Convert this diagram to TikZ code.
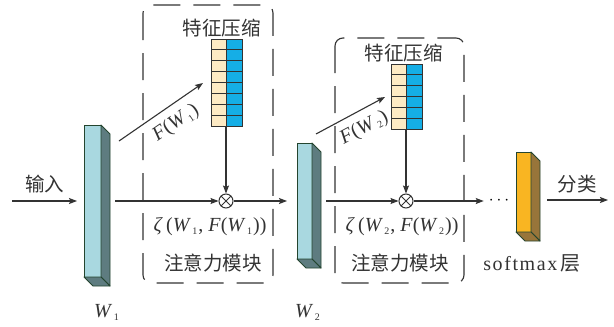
\documentclass[tikz,border=0pt]{standalone}
\usepackage{fontspec}
\setmainfont{Liberation Serif}
\newfontfamily\cjk{Noto Sans CJK SC}
\usetikzlibrary{arrows.meta,calc}
\definecolor{linec}{HTML}{333333}
\definecolor{edgec}{HTML}{24452F}
\definecolor{wfront}{HTML}{A9D8E0}
\definecolor{wside}{HTML}{5E7C80}
\definecolor{sfront}{HTML}{F9B522}
\definecolor{sside}{HTML}{98753A}
\definecolor{cbeige}{HTML}{FDEAC4}
\definecolor{cblue}{HTML}{15AEE6}
\newcommand\Wi[1]{\textit{W}\kern1.5pt\raisebox{-3pt}{\fontsize{10}{10}\selectfont #1}\kern1pt}
\newcommand\drawprism[6]{%
  \node[prismface, fill=#5, minimum width=#3, minimum height=#4] (#1) at (#2) {};
  \filldraw[prismedge, fill=#6] (#1.north east) -- ++(9,9) -- ($(#1.south east)+(9,9)$) -- (#1.south east) -- cycle;
  \filldraw[prismedge, fill=#6] (#1.south west) -- ++(9,9) -- ($(#1.south east)+(9,9)$) -- (#1.south east) -- cycle;
}
\begin{document}
\begin{tikzpicture}[x=1pt,y=-1pt,
  line/.style={draw=linec, line width=1.1pt},
  arr/.style={line, -{Stealth[length=8pt,width=6pt,inset=1.5pt]}},
  dbox/.style={draw=linec, line width=1.1pt, rounded corners=8pt, dash pattern=on 27pt off 13pt},
  prismface/.style={draw=edgec, line width=0.9pt, inner sep=0pt, outer sep=0pt, rectangle},
  prismedge/.style={draw=edgec, line width=0.9pt, line join=round},
  cell/.style={draw=linec, line width=0.8pt},
  otimes/.style={circle, draw=linec, line width=1pt, fill=white, minimum size=14pt, inner sep=0pt,
    path picture={\draw[linec, line width=0.9pt] (path picture bounding box.north west) -- (path picture bounding box.south east)
      (path picture bounding box.north east) -- (path picture bounding box.south west);}},
  lab/.style={inner sep=0pt, text=linec, font=\fontsize{20}{23}\selectfont},
  cjklab/.style={inner sep=0pt, text=linec, font=\cjk\fontsize{19.5}{22}\selectfont},
]
\useasboundingbox[fill=white] (0,0) rectangle (614,327);

% dashed module frames
\draw[dbox] (143,5) rectangle (273,283);
\draw[dbox] (335,38) rectangle (464,283);

% prisms
\drawprism{w1}{92.5,201}{17pt}{152pt}{wfront}{wside}
\drawprism{w2}{304.5,201}{15pt}{116pt}{wfront}{wside}
\drawprism{sm}{523.5,192}{15pt}{80pt}{sfront}{sside}

% feature stacks
\foreach \i in {0,...,7} {
  \filldraw[cell, fill=cbeige] (211,39+\i*10.875) rectangle ++(15,10.875);
  \filldraw[cell, fill=cblue] (226,39+\i*10.875) rectangle ++(16,10.875);
}
\foreach \i in {0,...,5} {
  \filldraw[cell, fill=cbeige] (391,64+\i*10.833) rectangle ++(15,10.833);
  \filldraw[cell, fill=cblue] (406,64+\i*10.833) rectangle ++(16,10.833);
}
\coordinate (s1) at (226,126);
\coordinate (s2) at (406,129);

% multiplication nodes
\node[otimes] (o1) at (226,201) {};
\node[otimes] (o2) at (406,201) {};
\node[inner sep=0pt, font=\fontsize{16}{16}\selectfont] (dots) at (499,201) {$\cdots$};

% coordinates
\coordinate (in) at (12,201);
\coordinate (f1s) at (119,141);
\coordinate (f1e) at (203,83);
\coordinate (f2s) at (316,134);
\coordinate (f2e) at (385,97);
\coordinate (smout) at ($(sm.east)+(16,8)$);
\coordinate (out) at (608,200);

% connectors
\draw[arr, shorten >=7pt] (in) -- (w1.west);
\draw[arr] ($(w1.east)+(14,0)$) -- (o1.west);
\draw[arr, shorten >=10pt] (o1.east) -- (w2.west);
\draw[arr] ($(w2.east)+(14,0)$) -- (o2.west);
\draw[arr, shorten >=5pt] (o2.east) -- (dots.west);
\draw[arr] (smout) -- (out);
\draw[arr] (s1) -- (o1.north);
\draw[arr] (s2) -- (o2.north);
\draw[arr] (f1s) -- node[lab, sloped, pos=0.56, below=8pt] {\textit{F}(\Wi{1})} (f1e);
\draw[arr] (f2s) -- node[lab, sloped, pos=0.58, below=8pt] {\textit{F}(\Wi{2})} (f2e);

% labels
\node[cjklab] (tin) at (45,184) {输入};
\node[cjklab] (tout) at (577,184) {分类};
\node[cjklab] (sq1) at (221.5,28) {特征压缩};
\node[cjklab] (sq2) at (403.5,53) {特征压缩};
\node[lab] (z1) at (210,227) {\textit{ζ}\,(\Wi{1}, \textit{F}(\Wi{1}))};
\node[lab] (z2) at (402,227) {\textit{ζ}\,(\Wi{2}, \textit{F}(\Wi{2}))};
\node[cjklab] (am1) at (213,263) {注意力模块};
\node[cjklab] (am2) at (400,263) {注意力模块};
\node[lab] (lw1) at (107,312) {\Wi{1}};
\node[lab] (lw2) at (308,312) {\Wi{2}};
\node[lab] (lsm) at (532,263) {\addfontfeature{LetterSpace=8}softmax\,{\cjk 层}};
\end{tikzpicture}
\end{document}
